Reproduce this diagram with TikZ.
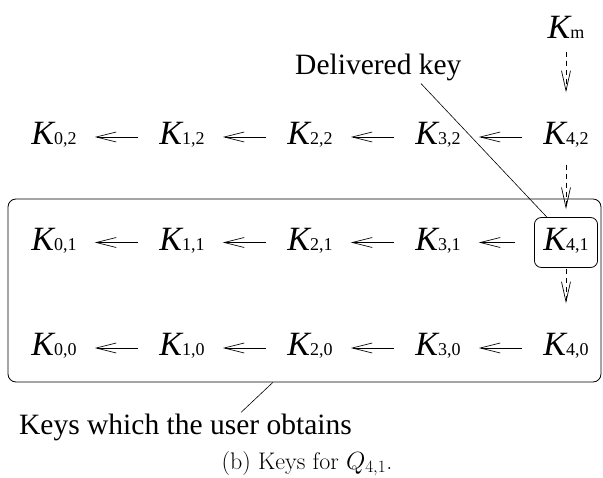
\documentclass[tikz,border=0pt]{standalone}
\usepackage{fontspec}
\newfontfamily\tms{LiberationSerif}[Extension=.ttf,UprightFont=*-Regular,
  ItalicFont=*-Italic,BoldFont=*-Bold,BoldItalicFont=*-BoldItalic]
\usetikzlibrary{arrows.meta,positioning,calc}
\tikzset{
  key/.style ={font=\tms,inner sep=2pt,text height=22.5pt,text depth=6.5pt},
  dlv/.style ={key,draw,rounded corners=7pt,line width=0.8pt,inner xsep=9pt,
               minimum height=50pt},
  grp/.style ={draw,rounded corners=8pt,line width=0.8pt,
               minimum width=593pt,minimum height=183pt},
  note/.style={font=\tms\fontsize{29.5}{30}\selectfont,inner sep=2pt},
  hop/.style ={-{Straight Barb[length=20pt,width=10pt]},line width=0.7pt,
               shorten >=16pt,shorten <=19pt},
  der/.style ={-{Straight Barb[length=20pt,width=9pt]},line width=0.7pt,
               dash pattern=on 5pt off 4pt},
  ptr/.style ={line width=0.6pt},
}
\newcommand{\kk}[1]{{\fontsize{34}{34}\selectfont\itshape K}{\fontsize{18}{18}\selectfont #1}}

\begin{document}
\begin{tikzpicture}[x=1pt,y=-1pt,node distance=105.5pt and 128pt,on grid]
\useasboundingbox (0,0) rectangle (603,478);
% row 2
\node[key] (K02) at (54,137) {\kk{0,2}};
\node[key,right=of K02] (K12) {\kk{1,2}};
\node[key,right=of K12] (K22) {\kk{2,2}};
\node[key,right=of K22] (K32) {\kk{3,2}};
\node[key,right=of K32] (K42) {\kk{4,2}};
\node[key,above=106pt of K42] (Km) {\kk{m}};
% row 1
\node[key,below=of K02] (K01) {\kk{0,1}};
\node[key,right=of K01] (K11) {\kk{1,1}};
\node[key,right=of K11] (K21) {\kk{2,1}};
\node[key,right=of K21] (K31) {\kk{3,1}};
\node[dlv,right=of K31] (K41) {\kk{4,1}};
% row 0
\node[key,below=of K01] (K00) {\kk{0,0}};
\node[key,right=of K00] (K10) {\kk{1,0}};
\node[key,right=of K10] (K20) {\kk{2,0}};
\node[key,right=of K20] (K30) {\kk{3,0}};
\node[key,right=of K30] (K40) {\kk{4,0}};

\node[grp] (G) at (304.5,290.5) {};
\node[note,anchor=base west] (DK) at (293,75) {Delivered key};
\node[note,anchor=base west] (UK) at (17,435) {Keys which the user obtains};
\node[anchor=base,font=\fontsize{24}{26}\selectfont] (CAP) at (307,469) {(b) Keys for $Q_{4,1}$.};

\draw[hop] (K12) -- (K02);
\draw[hop] (K22) -- (K12);
\draw[hop] (K32) -- (K22);
\draw[hop] (K42) -- (K32);
\draw[hop] (K11) -- (K01);
\draw[hop] (K21) -- (K11);
\draw[hop] (K31) -- (K21);
\draw[hop] (K41) -- (K31);
\draw[hop] (K10) -- (K00);
\draw[hop] (K20) -- (K10);
\draw[hop] (K30) -- (K20);
\draw[hop] (K40) -- (K30);

\draw[der,shorten <=4pt,shorten >=28pt] (Km) -- (K42);
\draw[der,shorten <=11pt,shorten >=8pt] (K42) -- (K41);
\draw[der,shorten <=1pt,shorten >=28pt] (K41) -- (K40);

\draw[ptr] ($(DK.south west)!0.75!(DK.south east)$) -- (K41.127);
\draw[ptr] ($(UK.north west)!0.665!(UK.north east)$) -- (G.251);
\end{tikzpicture}
\end{document}
